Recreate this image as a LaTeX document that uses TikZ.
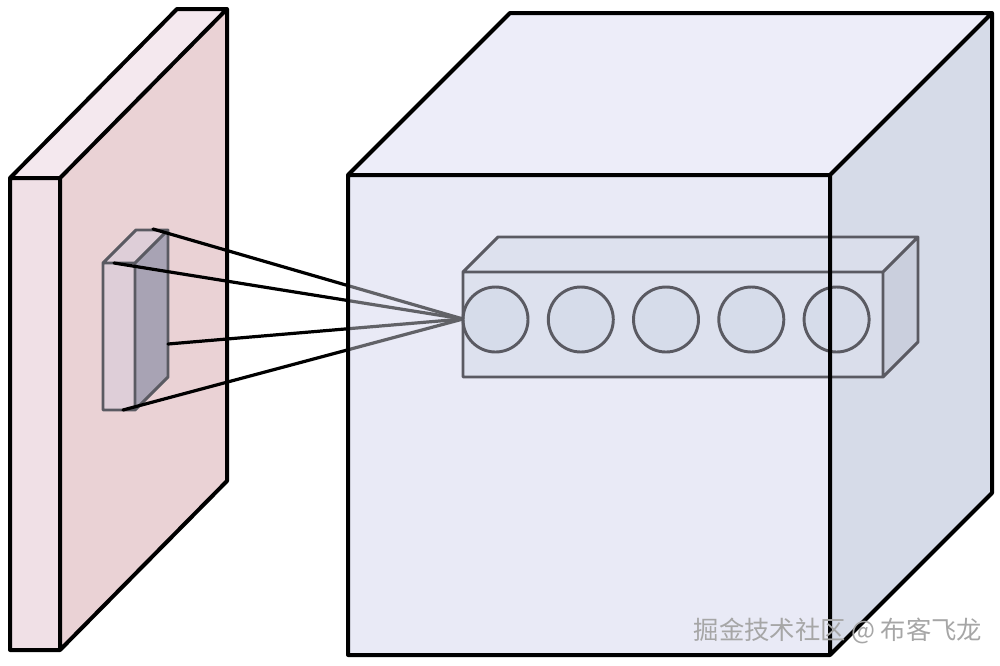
\documentclass[tikz,border=0pt]{standalone}
\usepackage{fontspec}
\newfontfamily\cjk{Noto Sans CJK SC}
\definecolor{slabface}{RGB}{234,210,213}
\definecolor{slabedge}{RGB}{240,224,230}
\definecolor{slabtop}{RGB}{244,232,238}
\definecolor{cubefront}{RGB}{233,234,246}
\definecolor{cubetop}{RGB}{237,237,249}
\definecolor{cubeside}{RGB}{214,219,232}
\definecolor{barface}{RGB}{221,225,238}
\definecolor{barside}{RGB}{196,201,216}
\definecolor{cellfill}{RGB}{214,220,234}
\definecolor{graystroke}{RGB}{90,90,98}
\definecolor{kernlight}{RGB}{222,206,216}
\definecolor{kerndark}{RGB}{168,163,180}
\begin{document}
\begin{tikzpicture}[x=.75pt, y=-.75pt, line join=round, line cap=round,
	thick edge/.style={draw=black, line width=3pt},
	soft edge/.style={draw=graystroke, line width=2.2pt},
	link/.style={draw=black, line width=2.4pt}]
	\useasboundingbox (0,0) rectangle (1000,665);
	% input slab
	\coordinate (A) at (10,178);
	\coordinate (B) at (60,178);
	\coordinate (C) at (60,650);
	\coordinate (D) at (10,650);
	\coordinate (A2) at (177,9);
	\coordinate (B2) at (227,9);
	\coordinate (C2) at (227,481);
	\fill[slabface] (B)--(B2)--(C2)--(C)--cycle;
	\fill[slabedge] (A)--(B)--(C)--(D)--cycle;
	\fill[slabtop] (A)--(A2)--(B2)--(B)--cycle;
	\draw[thick edge] (A)--(A2)--(B2)--(C2)--(C)--(D)--cycle (A)--(B)--(C) (B)--(B2);
	% receptive field
	\coordinate (P1) at (103,263);
	\coordinate (P2) at (135,263);
	\coordinate (P3) at (135,410);
	\coordinate (P4) at (103,410);
	\coordinate (Q1) at (136,230);
	\coordinate (Q2) at (168,230);
	\coordinate (Q3) at (168,377);
	\fill[kernlight] (P1)--(P2)--(P3)--(P4)--cycle (P1)--(Q1)--(Q2)--(P2)--cycle;
	\fill[kerndark] (P2)--(Q2)--(Q3)--(P3)--cycle;
	\draw[soft edge] (P1)--(Q1)--(Q2)--(Q3)--(P3)--(P4)--cycle (P1)--(P2)--(P3) (P2)--(Q2);
	% output volume
	\coordinate (F1) at (348,175);
	\coordinate (F2) at (830,175);
	\coordinate (F3) at (830,655);
	\coordinate (F4) at (348,655);
	\coordinate (G1) at (510,13);
	\coordinate (G2) at (992,13);
	\coordinate (G3) at (992,493);
	\fill[cubetop] (F1)--(G1)--(G2)--(F2)--cycle;
	\fill[cubeside] (F2)--(G2)--(G3)--(F3)--cycle;
	\fill[cubefront] (F1)--(F2)--(F3)--(F4)--cycle;
	% connections
	\coordinate (T) at (463,319);
	\coordinate (L1) at (153,229);
	\coordinate (L2) at (114,263);
	\coordinate (L3) at (168,344);
	\coordinate (L4) at (123,410);
	\foreach \p in {L1,L2,L3,L4}
	\draw[link] (\p)--(T);
	\fill[cubefront, opacity=.42] (F1)--(F2)--(F3)--(F4)--cycle;
	% depth column
	\coordinate (R1) at (463,272);
	\coordinate (R2) at (883,272);
	\coordinate (R3) at (883,377);
	\coordinate (R4) at (463,377);
	\coordinate (S1) at (498,237);
	\coordinate (S2) at (918,237);
	\coordinate (S3) at (918,342);
	\fill[barface] (R1)--(R2)--(R3)--(R4)--cycle (R1)--(S1)--(S2)--(R2)--cycle;
	\fill[barside] (R2)--(S2)--(S3)--(R3)--cycle;
	\foreach \n/\cx in {1/495.5,2/580.8,3/666,4/751.3,5/836.6}
	\fill[cellfill] (\cx,319.5) circle (32.5);
	\fill[cubeside, opacity=.35] (F2)--(G2)--(G3)--(F3)--cycle;
	\draw[soft edge] (R1)--(S1)--(S2)--(S3)--(R3)--(R4)--cycle (R1)--(R2)--(R3) (R2)--(S2);
	\foreach \n/\cx in {1/495.5,2/580.8,3/666,4/751.3,5/836.6}
	\draw[soft edge] (\cx,319.5) circle (32.5);
	\draw[thick edge] (F1)--(G1)--(G2)--(G3)--(F3)--(F4)--cycle (F1)--(F2)--(F3) (F2)--(G2);
	\node[text=black!35, font=\cjk\fontsize{19}{22}\selectfont] (mark) at (838,631) {掘金技术社区 @ 布客飞龙};
\end{tikzpicture}
\end{document}
